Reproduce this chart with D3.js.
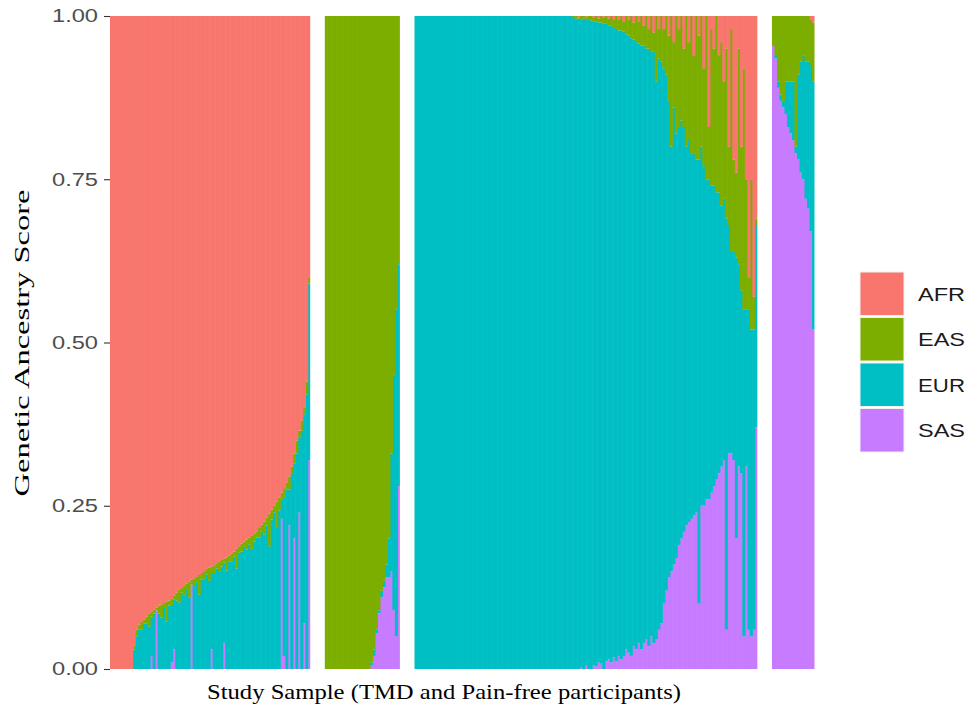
<!DOCTYPE html>
<html>
<head>
<meta charset="utf-8">
<script src="https://cdn.jsdelivr.net/npm/d3@7"></script>
<style>
  body { margin: 0; background: #fff; }
  svg { display: block; }
</style>
</head>
<body>
<div class="container-fluid"></div>
<script>
// ancestry groups (panels, left to right) and the stacking keys
var groups = ["AFR", "EAS", "EUR", "SAS"];
var keys = ["AFR", "EAS", "EUR", "SAS"];
var yTicks = [0, 0.25, 0.5, 0.75, 1];

// panel 1 : AFR dominant
var p1AFR = [1,1,1,1,1,1,1,1,1,.965,.94,.932,.928,.924,.92,.915,.912,.909,.906,.903,
  .901,.899,.897,.895,.892,.888,.883,.878,.875,.872,.869,.866,.863,.861,.859,.856,.853,.85,.847,.845,
  .843,.841,.838,.835,.833,.831,.829,.826,.823,.82,.816,.812,.808,.805,.802,.799,.796,.793,.789,.784,
  .779,.774,.768,.762,.756,.75,.744,.737,.73,.723,.715,.705,.69,.67,.65,.635,.62,.60,.56,.40];
var p1EAS = [0,0,0,0,0,0,0,0,0,.005,.01,.008,.012,.006,.01,.02,.008,.006,.004,.012,
  .02,.006,.03,.008,.01,.006,.012,.02,.008,.015,.01,.025,.005,.012,.008,.03,.01,.012,.008,.02,
  .01,.012,.008,.015,.01,.006,.02,.01,.012,.008,.03,.01,.012,.008,.015,.01,.02,.012,.01,.015,
  .01,.02,.012,.05,.015,.01,.04,.02,.01,.015,.01,.02,.01,.015,.02,.01,.015,.01,.02,.01];
var p1EUR = [0,0,0,0,0,0,0,0,0,.03,.05,.06,.06,.07,.07,.065,.06,.085,0,.085,
  .079,.095,.073,.097,.088,.076,.105,.102,.117,.113,.121,.109,.002,.127,.133,.114,.137,.138,.145,.135,
  .117,.147,.154,.15,.157,.123,.151,.164,.165,.172,.154,.178,.18,.187,.183,.191,.184,.195,.201,.201,
  .211,.206,.22,.188,.229,.24,.216,.243,.03,.242,.275,.055,.3,.115,.33,.115,.365,.32,.42,.27];
var p1SAS = [0,0,0,0,0,0,0,0,0,0,0,0,0,0,0,0,.02,0,.09,0,
  0,0,0,0,.01,.03,0,0,0,0,0,0,.13,0,0,0,0,0,0,0,
  .03,0,0,0,0,.04,0,0,0,0,0,0,0,0,0,0,0,0,0,0,
  0,0,0,0,0,0,0,0,.23,.02,0,.22,0,.2,0,.24,0,.07,0,.32];

// panel 2 : EAS dominant
var p2AFR = [0,0,0,0,0,0,0,0,0,0,0,0,0,0,0,0,0,0,0,0,0,0,0,0,0,0,0,0,0,0];
var p2EAS = [1,1,1,1,1,1,1,1,1,1,1,1,1,1,1,1,1,1,.99,.97,.94,.91,.88,.865,.84,.80,.67,.55,.45,.38];
var p2EUR = [0,0,0,0,0,0,0,0,0,0,0,0,0,0,0,0,0,0,.005,.01,.005,.005,.01,.01,.02,.06,.18,.36,.50,.34];
var p2SAS = [0,0,0,0,0,0,0,0,0,0,0,0,0,0,0,0,0,0,.005,.02,.055,.085,.11,.125,.14,.14,.15,.09,.05,.28];

// panel 3 : EUR dominant (first 63 individuals are pure EUR)
var p3AFR = [0,0,0,0,0,0,0,0,0,0,0,0,0,0,0,0,0,0,0,0,0,0,0,0,0,0,0,0,0,0,0,0,
  0,0,0,0,0,0,0,0,0,0,0,0,0,0,0,0,0,0,0,0,0,0,0,0,0,0,0,0,0,0,0,
  0,0,.002,0,0,.003,0,0,.002,0,.004,0,.003,0,.004,0,.005,0,.006,0,.008,0,.006,0,.01,0,.008,0,.015,0,.02,0,.025,
  0,.02,0,.02,0,.03,0,.04,0,.02,0,.05,0,.04,0,.06,0,.03,0,.08,0,.17,.02,.05,0,.06,.04,.1,.05,.2,.02,.22,.24,.05,.2,.08,.25,.4,.25,.43,.31];
var p3EAS = [0,0,0,0,0,0,0,0,0,0,0,0,0,0,0,0,0,0,0,0,0,0,0,0,0,0,0,0,0,0,0,0,
  0,0,0,0,0,0,0,0,0,0,0,0,0,0,0,0,0,0,0,0,0,0,0,0,0,0,0,0,0,0,0,
  .003,.004,.002,.005,.004,.003,.006,.007,.006,.008,.006,.01,.009,.012,.01,.015,.012,.02,.016,.022,.016,.028,.024,.034,.026,.04,.034,.045,.03,.05,.03,.055,.03,
  .1,.045,.07,.06,.09,.1,.2,.1,.18,.15,.16,.12,.2,.15,.21,.15,.22,.19,.2,.15,.25,.08,.24,.21,.27,.21,.25,.18,.26,.12,.34,.14,.13,.33,.22,.37,.2,.05,.23,.05,.01];
var p3EUR = [1,1,1,1,1,1,1,1,1,1,1,1,1,1,1,1,1,1,1,1,1,1,1,1,1,1,1,1,1,1,1,1,
  1,1,1,1,1,1,1,1,1,1,1,1,1,1,1,1,1,1,1,1,1,1,1,1,1,1,1,1,1,1,1,
  .997,.996,.996,.993,.996,.989,.994,.993,.986,.988,.98,.982,.988,.976,.971,.975,.965,.968,.958,.963,.956,.942,.945,.946,.929,.93,.918,.925,.915,.905,.915,.895,.905,
  .855,.875,.86,.82,.79,.73,.65,.70,.65,.64,.64,.62,.58,.585,.56,.555,.54,.68,.55,.52,.49,.49,.47,.46,.44,.43,.40,.40,.63,.35,.31,.32,.43,.31,.28,.50,.24,.49,.47,.46,.31];
var p3SAS = [0,0,0,0,0,0,0,0,0,0,0,0,0,0,0,0,0,0,0,0,0,0,0,0,0,0,0,0,0,0,0,0,
  0,0,0,0,0,0,0,0,0,0,0,0,0,0,0,0,0,0,0,0,0,0,0,0,0,0,0,0,0,0,0,
  0,0,0,.002,0,.005,0,0,.006,.004,.01,.008,0,.012,.015,.01,.018,.012,.02,.015,.02,.03,.025,.02,.035,.03,.04,.03,.04,.045,.035,.05,.04,
  .045,.06,.07,.1,.12,.14,.15,.16,.17,.19,.2,.21,.22,.225,.23,.235,.24,.10,.25,.25,.26,.26,.27,.28,.29,.30,.31,.32,.06,.33,.33,.32,.2,.31,.30,.05,.31,.06,.05,.06,.37];

// panel 4 : SAS dominant
var p4AFR = [0,0,0,0,0,0,0,0,0,0,0,0,0,0,0,.005,.01];
var p4EAS = [.046,.06,.10,.12,.13,.10,.10,.10,.10,.2,.09,.07,.06,.07,.07,.07,.09];
var p4EUR = [0,.005,.01,.01,.01,.05,.07,.08,.09,.01,.13,.17,.19,.21,.225,.255,.38];
var p4SAS = [.954,.935,.89,.87,.86,.85,.83,.82,.81,.79,.78,.76,.75,.72,.705,.67,.52];

var colors = {AFR: "#F8766D", EAS: "#7CAE00", EUR: "#00BFC4", SAS: "#C77CFF"};

var panelData = [
  {AFR: p1AFR, EAS: p1EAS, EUR: p1EUR, SAS: p1SAS},
  {AFR: p2AFR, EAS: p2EAS, EUR: p2EUR, SAS: p2SAS},
  {AFR: p3AFR, EAS: p3EAS, EUR: p3EUR, SAS: p3SAS},
  {AFR: p4AFR, EAS: p4EAS, EUR: p4EUR, SAS: p4SAS}
];

var width = 977;
var height = 713;
// note: "top" is a reserved window property, so use plot* names
var plotLeft = 110, plotRight = 814.5, plotTop = 16, plotBottom = 669;
var gap = 14.6;

var svg = d3.select(".container-fluid").append("svg")
  .attr("width", width)
  .attr("height", height);

var y = d3.scaleLinear().domain([0, 1]).range([plotBottom, plotTop]);

// panel widths follow the number of individuals (facet space = "free")
var counts = panelData.map((p) => p.AFR.length);
var total = d3.sum(counts);
var barW = (plotRight - plotLeft - gap * (groups.length - 1)) / total;

var x0 = plotLeft;
panelData.forEach((p, gi) => {
  var rows = p.AFR.map((v, i) => ({id: i, AFR: p.AFR[i], EAS: p.EAS[i], EUR: p.EUR[i], SAS: p.SAS[i]}));
  var x = d3.scaleBand()
    .domain(rows.map((d) => d.id))
    .range([x0, x0 + barW * rows.length])
    .padding(0);
  var last = rows.length - 1;

  // ggplot stacks the first level on top, so SAS sits at the bottom
  var stack = d3.stack().keys(keys.slice().reverse());
  var layers = stack(rows);

  svg.append("g")
    .attr("class", "panel-" + groups[gi])
    .selectAll("g")
    .data(layers).enter()
    .append("g")
    .attr("fill", (d) => colors[d.key])
    .selectAll("rect")
    .data((d) => d).enter()
    .append("rect")
    .attr("x", (d) => x(d.data.id))
    // small overlap so neighbouring bars do not leave white seams
    .attr("width", (d) => x.bandwidth() + (d.data.id < last ? 0.6 : 0))
    .attr("y", (d) => y(d[1]))
    .attr("height", (d) => Math.max(0, y(d[0]) - y(d[1])));

  x0 += barW * rows.length + gap;
});

// y axis
var yAxis = svg.append("g")
  .attr("transform", `translate(${plotLeft},0)`)
  .call(d3.axisLeft(y).tickValues(yTicks).tickFormat(d3.format(".2f")).tickSize(6).tickPadding(6));
yAxis.select(".domain").remove();
yAxis.selectAll(".tick line").attr("stroke", "#333").attr("stroke-width", 1.1);
yAxis.selectAll(".tick text")
  .attr("fill", "#4d4d4d")
  .attr("textLength", 46)
  .attr("lengthAdjust", "spacingAndGlyphs")
  .style("font-family", "'Liberation Sans', Arial, sans-serif")
  .style("font-size", "18px");

// axis titles
svg.append("text")
  .attr("x", 444)
  .attr("y", 699)
  .attr("text-anchor", "middle")
  .attr("textLength", 474)
  .attr("lengthAdjust", "spacingAndGlyphs")
  .style("font-family", "'Liberation Serif', 'Times New Roman', serif")
  .style("font-size", "21px")
  .attr("fill", "#000")
  .text("Study Sample (TMD and Pain-free participants)");

svg.append("text")
  .attr("transform", "translate(29,343) rotate(-90)")
  .attr("text-anchor", "middle")
  .attr("textLength", 307)
  .attr("lengthAdjust", "spacingAndGlyphs")
  .style("font-family", "'Liberation Serif', 'Times New Roman', serif")
  .style("font-size", "21px")
  .attr("fill", "#000")
  .text("Genetic Ancestry Score");

// legend
var legend = svg.append("g")
  .attr("transform", "translate(860,272)")
  .selectAll("g")
  .data(keys).enter()
  .append("g")
  .attr("transform", (d, i) => `translate(0,${i * 45.5})`);

legend.append("rect")
  .attr("width", 44)
  .attr("height", 43.5)
  .attr("fill", (d) => colors[d])
  .attr("stroke", "#f2f2f2")
  .attr("stroke-width", 1);

legend.append("text")
  .attr("x", 58)
  .attr("y", 22)
  .attr("dy", "0.35em")
  .attr("textLength", 47)
  .attr("lengthAdjust", "spacingAndGlyphs")
  .style("font-family", "'Liberation Sans', Arial, sans-serif")
  .style("font-size", "19px")
  .attr("fill", "#1a1a1a")
  .text((d) => d);
</script>
</body>
</html>
